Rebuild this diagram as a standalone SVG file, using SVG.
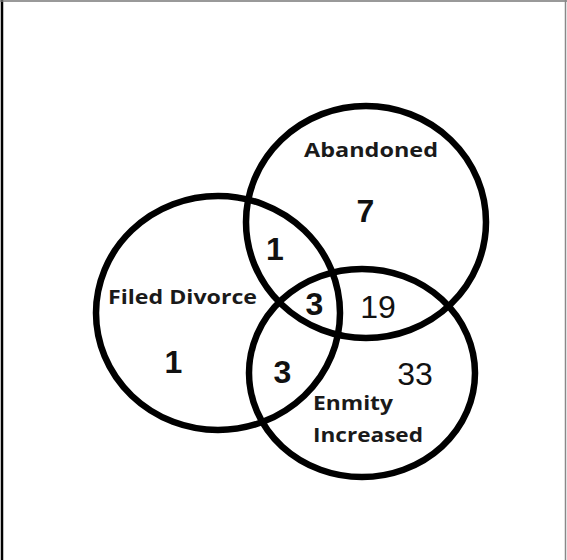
<svg xmlns="http://www.w3.org/2000/svg" width="567" height="560" viewBox="0 0 567 560">
<style>
.ring{fill:none;stroke:#000;stroke-width:6.5}
.lbl{font-family:"Open Sans","DejaVu Sans",sans-serif;font-weight:bold;font-size:19px;fill:#1a1a1a}
.num{font-family:"Liberation Sans",Arial,sans-serif;font-size:32px;fill:#111;text-anchor:middle}
.b{font-weight:bold}
</style>
<rect x="0" y="0" width="567" height="560" fill="#fff"/>
<g id="frame">
<line x1="2" y1="0" x2="2" y2="560" stroke="#000" stroke-width="2.5"/>
<line x1="0" y1="1" x2="567" y2="1" stroke="#777" stroke-width="1.5"/>
<line x1="565.5" y1="0" x2="565.5" y2="560" stroke="#888" stroke-width="1.5"/>
</g>
<g id="abandoned">
<ellipse class="ring" cx="366" cy="222" rx="120" ry="116"/>
<text class="lbl" x="304" y="157" textLength="134" lengthAdjust="spacingAndGlyphs">Abandoned</text>
</g>
<g id="filed-divorce">
<ellipse class="ring" cx="218" cy="313" rx="122" ry="117"/>
<text class="lbl" x="108" y="304" textLength="149" lengthAdjust="spacingAndGlyphs">Filed Divorce</text>
</g>
<g id="enmity-increased">
<ellipse class="ring" cx="362" cy="373" rx="113" ry="104"/>
<text class="lbl" x="313" y="410" textLength="80" lengthAdjust="spacingAndGlyphs">Enmity</text>
<text class="lbl" x="313" y="442" textLength="110" lengthAdjust="spacingAndGlyphs">Increased</text>
</g>
<g id="counts">
<text class="num b" x="365.5" y="222" font-size="33">7</text>
<text class="num b" x="275" y="260">1</text>
<text class="num b" x="314.5" y="315" font-size="34">3</text>
<text class="num" x="378" y="318" font-size="31">19</text>
<text class="num b" x="173.5" y="373" font-size="33">1</text>
<text class="num b" x="282.5" y="383" font-size="30">3</text>
<text class="num" x="415" y="385">33</text>
</g>
</svg>
